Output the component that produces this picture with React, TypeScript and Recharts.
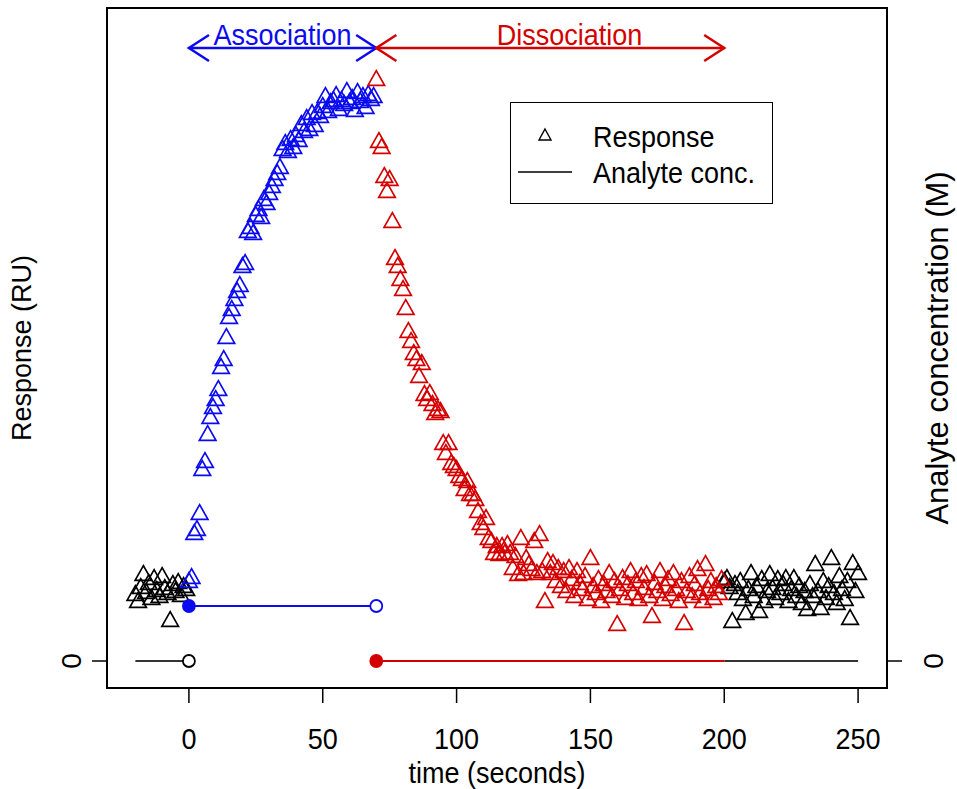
import React from "react";
import {
  ComposedChart,
  Scatter,
  Line,
  XAxis,
  YAxis,
  ReferenceArea,
  ReferenceDot,
  Legend,
} from "recharts";

const FONT = "'Liberation Sans', Arial, Helvetica, sans-serif";
const BLUE = "#0b0bf0";
const RED = "#d40000";
const BLACK = "#000";
// text in the original is a little tall and narrow
const TEXT_SIZE = 30;
const STRETCH = 0.9;

// response (RU), one reading per second, split by phase
const preResponse = [68, 61, 75, 88, 70, 79, 64, 84, 72, 66, 86, 74, 69, 42, 78, 71, 80, 67, 76, 73];
const associationResponse = [
  81, 85, 129, 133, 149, 193, 201, 228, 245, 255,
  263, 273, 295, 303, 325, 345, 353, 363, 371, 377,
  396, 399, 431, 435, 429, 447, 453, 445, 463, 459,
  469, 476, 483, 489, 495, 513, 519, 511, 523, 515,
  527, 522, 538, 531, 544, 533, 549, 537, 550, 546,
  556, 566, 551, 560, 562, 567, 553, 562, 558, 571,
  560, 564, 552, 570, 561, 566, 555, 568, 563, 566,
];
const dissociationResponse = [
  583, 521, 515, 486, 471, 483, 441, 404, 396, 383,
  373, 354, 331, 321, 309, 303, 286, 299, 268, 263,
  269, 258, 249, 253, 251, 219, 209, 219, 199, 196,
  193, 186, 183, 173, 181, 168, 168, 163, 151, 139,
  134, 144, 124, 121, 109, 116, 108, 116, 109, 118,
  109, 94, 106, 88, 124, 89, 104, 98, 93, 121,
  89, 128, 91, 61, 101, 89, 99, 81, 94, 76,
  91, 71, 94, 83, 66, 91, 79, 73, 86, 63,
  104, 76, 69, 83, 61, 78, 71, 89, 66, 81,
  38, 73, 84, 64, 78, 91, 69, 81, 63, 86,
  74, 88, 66, 46, 79, 71, 91, 63, 76, 83,
  68, 89, 73, 61, 81, 39, 71, 86, 66, 78,
  93, 69, 61, 98, 73, 81, 64, 76, 69, 83,
];
const postResponse = [
  81, 84, 75, 41, 78, 69, 81, 63, 49, 73,
  89, 66, 76, 51, 83, 61, 71, 88, 74, 64,
  83, 69, 78, 84, 61, 73, 84, 66, 76, 59,
  71, 53, 78, 66, 98, 71, 54, 81, 64, 76,
  104, 69, 59, 86, 73, 63, 81, 44, 99, 71,
  89,
];

// phase boundaries (seconds)
const RUN_START = -20;
const INJECT_START = 0;
const INJECT_END = 70;
const WASH_END = 200;
const RUN_END = 250;

// analyte concentration (arbitrary M) during injection, 0 otherwise
const ANALYTE_CONC = 1;

const xTicks = [0, 50, 100, 150, 200, 250];
const phaseNames = ["Association", "Dissociation"];

const toPoints = (start: number, values: number[]) =>
  values.map((v, i) => ({ t: start + i, v }));

const prePts = toPoints(RUN_START, preResponse);
const assocPts = toPoints(INJECT_START, associationResponse);
const dissocPts = toPoints(INJECT_END, dissociationResponse);
const postPts = toPoints(WASH_END, postResponse);

const concPre = [{ t: RUN_START, c: 0 }, { t: INJECT_START, c: 0 }];
const concAssoc = [{ t: INJECT_START, c: ANALYTE_CONC }, { t: INJECT_END, c: ANALYTE_CONC }];
const concDissoc = [{ t: INJECT_END, c: 0 }, { t: WASH_END, c: 0 }];
const concPost = [{ t: WASH_END, c: 0 }, { t: RUN_END, c: 0 }];

// arrows across the top
const ARROW_Y = 613;
const ARM_T = 7.5;
const ARM_V = 13;
const shaft = (a: number, b: number) => [{ t: a, v: ARROW_Y }, { t: b, v: ARROW_Y }];
const head = (tip: number, dir: number) => [
  { t: tip + dir * ARM_T, v: ARROW_Y + ARM_V },
  { t: tip, v: ARROW_Y },
  { t: tip + dir * ARM_T, v: ARROW_Y - ARM_V },
];

const SText = ({ x, y, anchor = "middle", fill = BLACK, children }: any) => (
  <text
    transform={`translate(${x} ${y}) scale(${STRETCH} 1)`}
    textAnchor={anchor}
    fontFamily={FONT}
    fontSize={TEXT_SIZE}
    fill={fill}
  >
    {children}
  </text>
);

const Triangle = ({ cx, cy, color }: any) => (
  <path
    d={`M${cx},${cy - 7.3}L${cx + 8.3},${cy + 7.3}L${cx - 8.3},${cy + 7.3}Z`}
    fill="none"
    stroke={color}
    strokeWidth={1.7}
  />
);

const endDots = (color: string, kinds: (string | null)[]) => (p: any) => {
  const kind = kinds[p.index];
  if (!kind) return <g key={p.index} />;
  return (
    <circle
      key={p.index}
      cx={p.cx}
      cy={p.cy}
      r={6}
      fill={kind === "filled" ? color : "#fff"}
      stroke={color}
      strokeWidth={1.8}
    />
  );
};

const XTick = (p: any) => <SText x={p.x} y={p.y + 44}>{p.payload.value}</SText>;

const SideTick = (shift: number) => (p: any) => {
  const bx = p.x + shift;
  return (
    <text
      x={bx}
      y={p.y}
      transform={`rotate(-90 ${bx} ${p.y})`}
      textAnchor="middle"
      fontFamily={FONT}
      fontSize={28}
      fill={BLACK}
    >
      {p.payload.value}
    </text>
  );
};

const SideLabel = (text: string, shift: number, size: number) => (p: any) => {
  const vb = p.viewBox;
  const bx = vb.x + shift;
  const cy = vb.y + vb.height / 2;
  return (
    <text
      x={bx}
      y={cy}
      transform={`rotate(-90 ${bx} ${cy})`}
      textAnchor="middle"
      fontFamily={FONT}
      fontSize={size}
      fill={BLACK}
    >
      {text}
    </text>
  );
};

const LegendBox = () => (
  <div
    style={{
      width: 263,
      height: 102,
      border: "1.5px solid #000",
      boxSizing: "border-box",
      background: "#fff",
      position: "relative",
    }}
  >
    <svg width={263} height={102} style={{ position: "absolute", left: -1.5, top: -1.5 }}>
      <path d="M35,27L41,38L29,38Z" fill="none" stroke={BLACK} strokeWidth={1.4} />
      <line x1={8} x2={62} y1={70} y2={70} stroke={BLACK} strokeWidth={1.5} />
      <SText x={83} y={45} anchor="start">Response</SText>
      <SText x={83} y={81} anchor="start">Analyte conc.</SText>
    </svg>
  </div>
);

export default function App() {
  return (
    <div style={{ position: "absolute", left: 0, top: 0, width: 957, height: 789, background: "#fff" }}>
      <ComposedChart width={957} height={789} margin={{ top: 8, right: 0, bottom: 0, left: 0 }}>
        <XAxis
          type="number"
          dataKey="t"
          domain={[-30.6, 260.8]}
          ticks={xTicks}
          interval={0}
          allowDataOverflow
          axisLine={false}
          tickSize={15}
          tickLine={{ stroke: BLACK, strokeWidth: 1.5 }}
          tick={XTick}
          height={101}
          label={(p: any) => (
            <SText x={p.viewBox.x + p.viewBox.width / 2} y={p.viewBox.y + 95}>
              time (seconds)
            </SText>
          )}
        />
        <YAxis
          yAxisId="resp"
          type="number"
          dataKey="v"
          domain={[-27, 653]}
          ticks={[0]}
          allowDataOverflow
          axisLine={false}
          tickSize={15}
          tickLine={{ stroke: BLACK, strokeWidth: 1.5 }}
          tick={SideTick(-9)}
          width={107}
          label={SideLabel("Response (RU)", 31, 27)}
        />
        <YAxis
          yAxisId="conc"
          orientation="right"
          type="number"
          dataKey="c"
          domain={[-0.4909, 11.873]}
          ticks={[0]}
          allowDataOverflow
          axisLine={false}
          tickSize={15}
          tickLine={{ stroke: BLACK, strokeWidth: 1.5 }}
          tick={SideTick(39)}
          width={70}
          label={SideLabel("Analyte concentration (M)", 61, 31)}
        />
        <ReferenceArea
          yAxisId="resp"
          x1={-30.6}
          x2={260.8}
          y1={-27}
          y2={653}
          fill="none"
          stroke={BLACK}
          strokeWidth={2}
        />

        <Scatter yAxisId="resp" data={prePts} dataKey="v" isAnimationActive={false}
          shape={(p: any) => <Triangle cx={p.cx} cy={p.cy} color={BLACK} />} />
        <Scatter yAxisId="resp" data={postPts} dataKey="v" isAnimationActive={false}
          shape={(p: any) => <Triangle cx={p.cx} cy={p.cy} color={BLACK} />} />
        <Scatter yAxisId="resp" data={assocPts} dataKey="v" isAnimationActive={false}
          shape={(p: any) => <Triangle cx={p.cx} cy={p.cy} color={BLUE} />} />
        <Scatter yAxisId="resp" data={dissocPts} dataKey="v" isAnimationActive={false}
          shape={(p: any) => <Triangle cx={p.cx} cy={p.cy} color={RED} />} />

        <Line yAxisId="conc" data={concPre} dataKey="c" stroke="#333" strokeWidth={1.8}
          dot={endDots(BLACK, [null, "open"])} isAnimationActive={false} />
        <Line yAxisId="conc" data={concPost} dataKey="c" stroke="#333" strokeWidth={1.8}
          dot={false} isAnimationActive={false} />
        <Line yAxisId="conc" data={concDissoc} dataKey="c" stroke={RED} strokeWidth={1.8}
          dot={endDots(RED, ["filled", null])} isAnimationActive={false} />
        <Line yAxisId="conc" data={concAssoc} dataKey="c" stroke={BLUE} strokeWidth={1.8}
          dot={endDots(BLUE, ["filled", "open"])} isAnimationActive={false} />

        <Line yAxisId="resp" data={shaft(INJECT_START, INJECT_END)} dataKey="v" stroke={BLUE}
          strokeWidth={2.5} dot={false} isAnimationActive={false} />
        <Line yAxisId="resp" data={head(INJECT_START, 1)} dataKey="v" stroke={BLUE}
          strokeWidth={2.5} dot={false} isAnimationActive={false} />
        <Line yAxisId="resp" data={head(INJECT_END, -1)} dataKey="v" stroke={BLUE}
          strokeWidth={2.5} dot={false} isAnimationActive={false} />
        <Line yAxisId="resp" data={shaft(INJECT_END, WASH_END)} dataKey="v" stroke={RED}
          strokeWidth={2.5} dot={false} isAnimationActive={false} />
        <Line yAxisId="resp" data={head(INJECT_END, 1)} dataKey="v" stroke={RED}
          strokeWidth={2.5} dot={false} isAnimationActive={false} />
        <Line yAxisId="resp" data={head(WASH_END, -1)} dataKey="v" stroke={RED}
          strokeWidth={2.5} dot={false} isAnimationActive={false} />

        <ReferenceDot yAxisId="resp" x={35} y={ARROW_Y} r={0} fill="none" stroke="none"
          label={(p: any) => (
            <SText x={p.viewBox.x + p.viewBox.width / 2} y={p.viewBox.y - 3} fill={BLUE}>
              {phaseNames[0]}
            </SText>
          )} />
        <ReferenceDot yAxisId="resp" x={142.2} y={ARROW_Y} r={0} fill="none" stroke="none"
          label={(p: any) => (
            <SText x={p.viewBox.x + p.viewBox.width / 2} y={p.viewBox.y - 3} fill={RED}>
              {phaseNames[1]}
            </SText>
          )} />

        <Legend
          layout="vertical"
          align="center"
          verticalAlign="middle"
          content={() => <LegendBox />}
          wrapperStyle={{ left: 510, top: 102, width: 263, height: 102 }}
        />
      </ComposedChart>
    </div>
  );
}
